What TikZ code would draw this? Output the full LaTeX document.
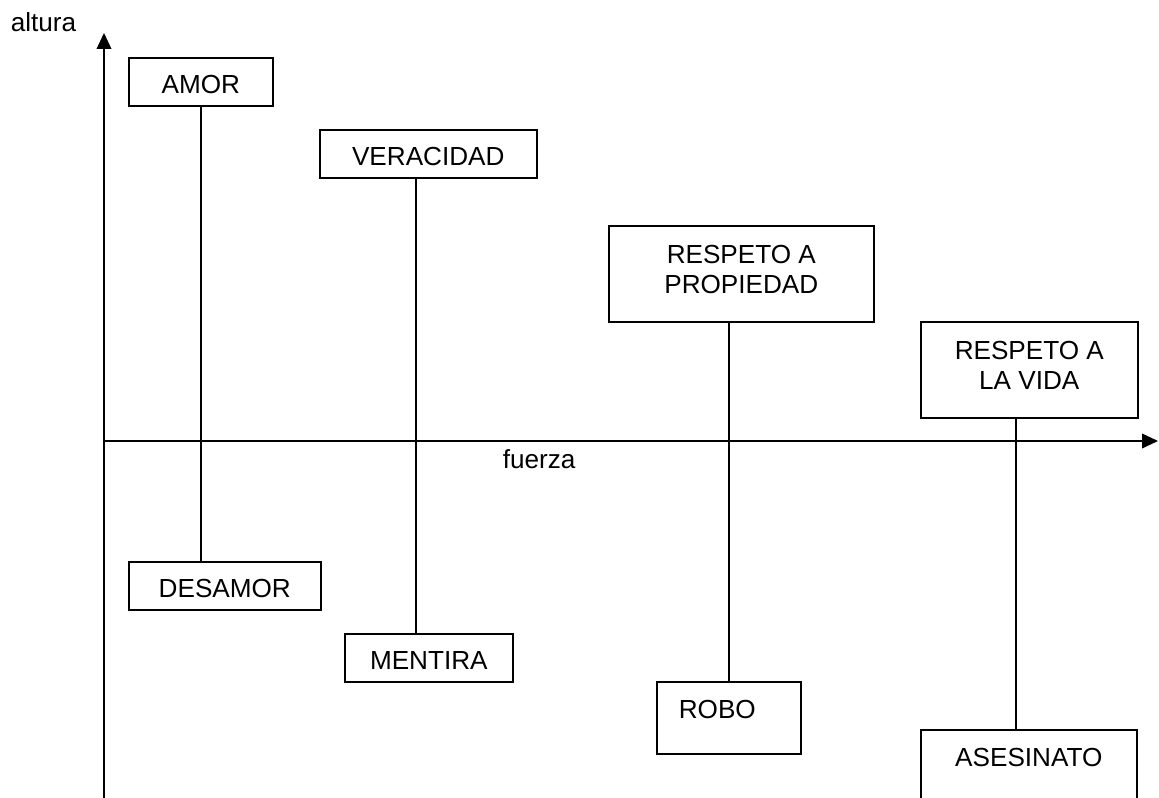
\documentclass[tikz,border=0pt]{standalone}
\usepackage{fontspec}
\setmainfont{Liberation Sans}
\usetikzlibrary{arrows.meta}

\begin{document}
\begin{tikzpicture}[x=0.75pt,y=-0.75pt,line width=1.2pt,
    font=\fontsize{19.6}{22.5}\selectfont,
    caja/.style={draw,rectangle,inner sep=0pt,anchor=north west,text height=27pt,text depth=9pt},
    cajados/.style={caja,align=center,text height=50.6pt,text depth=21.4pt},
    texto/.style={inner sep=0pt,anchor=base west},
    eje/.style={-{Triangle[length=12pt,width=11pt]}}]
            \useasboundingbox (0,0) rectangle (1159,798);
            \clip (0,0) rectangle (1159,798);
            % ejes
            \coordinate (O) at (104,441);
            \coordinate (Y) at (104,33);
            \coordinate (Y_1) at (104,800);
            \coordinate (X) at (1158,441);
            \draw[eje] (Y_1)--(Y);
            \draw[eje] (O)--(X);
            \node[texto] (altura) at (10,32) {altura};
            \node[texto] (fuerza) at (502,468) {fuerza};
            % cajas de arriba
            \node[caja,minimum width=108pt] (amor) at (128,57) {AMOR};
            \node[caja,minimum width=162.75pt] (veracidad) at (319,129) {VERACIDAD};
            \node[cajados,minimum width=198.75pt] (propiedad) at (608,225) {RESPETO A\\PROPIEDAD};
            \node[cajados,minimum width=162.75pt] (vida) at (920,321) {RESPETO A\\LA VIDA};
            % cajas de abajo
            \node[caja,minimum width=144pt] (desamor) at (128,561) {DESAMOR};
            \node[caja,minimum width=126pt] (mentira) at (344,633) {MENTIRA};
            \node[caja,text width=75pt,align=left,inner xsep=16.5pt,text height=27.4pt,text depth=26.6pt] (robo) at (656,681) {ROBO};
            \node[caja,minimum width=162pt,text height=27.4pt,text depth=50pt] (asesinato) at (920,729) {ASESINATO};
            % lineas
            \coordinate (x_v) at (416,0);
            \coordinate (x_r) at (1016,0);
            \draw (amor.south)--(amor.south |- desamor.north);
            \draw (veracidad.south -| x_v)--(mentira.north -| x_v);
            \draw (propiedad.south -| robo.north)--(robo.north);
            \draw (vida.south -| x_r)--(asesinato.north -| x_r);
    \end{tikzpicture}
\end{document}
